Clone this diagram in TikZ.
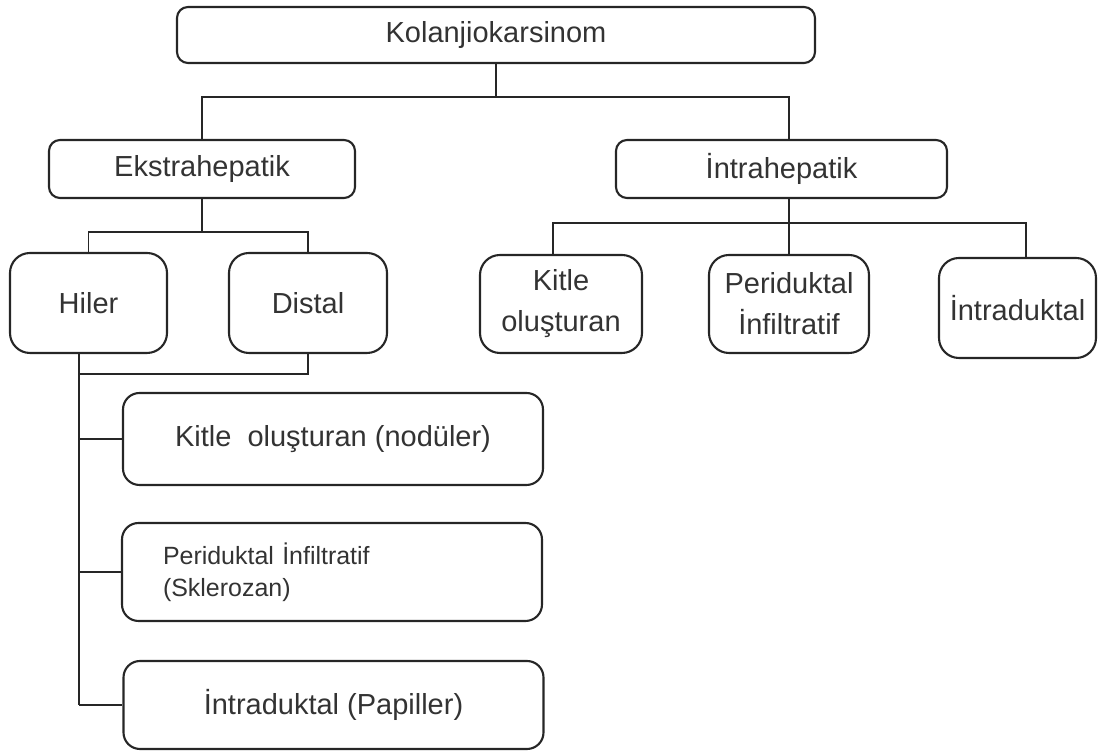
\documentclass[tikz,border=0pt]{standalone}
\usepackage{fontspec}
\setmainfont{Liberation Sans}
\begin{document}
\begin{tikzpicture}[
	box/.style={draw=black!85, line width=1.2pt, rounded corners=0.22cm, align=center,
		text=black!80, inner sep=0pt, font=\fontsize{16.5}{23.3}\selectfont},
	smallbox/.style={box, rounded corners=0.4cm},
	widebox/.style={box, rounded corners=0.33cm, minimum width=8.4cm},
	link/.style={draw=black!85, line width=1.1pt}
	]
	\useasboundingbox (0,0) rectangle (22.02,15.02);
	% ust kutu ve ana dallar
	\node[box, minimum width=12.76cm, minimum height=1.12cm] (kol) at (9.92,14.32) {Kolanjiokarsinom};
	\node[box, minimum width=6.12cm, minimum height=1.16cm] (ekstra) at (4.04,11.64) {Ekstrahepatik};
	\node[box, minimum width=6.62cm, minimum height=1.16cm] (intra) at (15.63,11.64) {İntrahepatik};
	% ekstrahepatik alt kutular
	\node[smallbox, minimum width=3.14cm, minimum height=2cm] (hiler) at (1.77,8.96) {Hiler};
	\node[smallbox, minimum width=3.16cm, minimum height=2cm] (distal) at (6.16,8.96) {Distal};
	% intrahepatik alt kutular
	\node[smallbox, minimum width=3.24cm, minimum height=1.96cm] (kitle) at (11.22,8.94) {Kitle\\oluşturan};
	\node[smallbox, minimum width=3.2cm, minimum height=1.96cm] (peri) at (15.78,8.94) {Periduktal\\İnfiltratif};
	\node[smallbox, minimum width=3.14cm, minimum height=2cm] (intraduk) at (20.35,8.86) {İntraduktal};
	% hiler/distal tipleri
	\node[widebox, minimum height=1.84cm] (kitleH) at (6.66,6.24) {Kitle\ \ oluşturan (nodüler)};
	\node[widebox, align=left, text width=6.76cm, inner xsep=0.8cm, minimum height=1.96cm,
		font=\fontsize{14.2}{18}\selectfont] (periH) at (6.64,3.58) {Periduktal İnfiltratif\\(Sklerozan)};
	\node[widebox, minimum height=1.76cm] (intraH) at (6.67,0.92) {İntraduktal (Papiller)};
	% baglantilar
	\coordinate (b1) at (9.92,13.08);
	\coordinate (b2) at (4.04,10.38);
	\coordinate (b3) at (15.78,10.56);
	\coordinate (b4) at (1.58,7.54);
	\draw[link] (kol.south) -- (b1) -| (ekstra.north);
	\draw[link] (b1) -| (intra.north -| peri.north);
	\draw[link] (ekstra.south) -- (b2);
	\draw[link] (hiler.north) |- (b2) -| (distal.north);
	\draw[link] (intra.south -| peri.north) -- (peri.north);
	\draw[link] ([xshift=-0.16cm]kitle.north) |- (b3) -| ([xshift=0.17cm]intraduk.north);
	\draw[link] (distal.south) |- (b4);
	\draw[link] (hiler.south -| b4) -- (b4 |- intraH.west);
	\foreach \n in {kitleH,periH,intraH}
		\draw[link] (b4 |- \n.west) -- (\n.west);
\end{tikzpicture}
\end{document}
